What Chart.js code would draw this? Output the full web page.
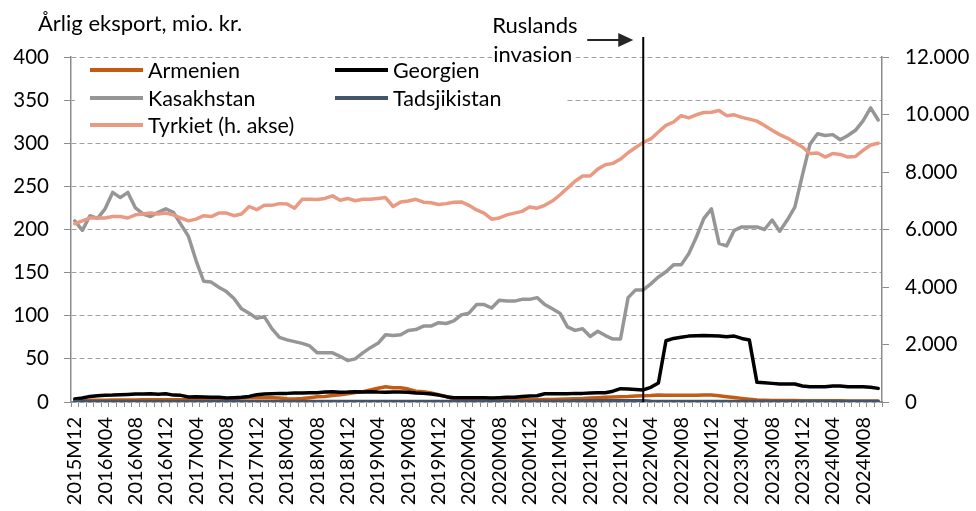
<!DOCTYPE html>
<html>
<head>
<meta charset="utf-8">
<script src="https://cdn.jsdelivr.net/npm/chart.js@4.4.1/dist/chart.umd.min.js"></script>
<style>
  html, body { margin: 0; padding: 0; background: #fff; }
  #wrap { width: 976px; height: 511px; }
</style>
</head>
<body>
<div id="wrap"><canvas id="eksport" width="976" height="511"></canvas></div>
<script>
// months 2015M12 .. 2024M10
const months = [];
for (let y = 2015, m = 12; months.length < 107; m++) {
  if (m > 12) { m = 1; y++; }
  months.push(y + 'M' + String(m).padStart(2, '0'));
}
const tickLabels = months.filter((_, i) => i % 4 === 0);
const invasionMonth = '2022M03';

// mio. kr., venstre akse
const armenien = [2, 2, 2, 2, 2, 2.2, 2.2, 2.4, 2.4, 2.5, 2.5, 2.5, 2.6, 2.6, 2.5, 2.5, 2.6, 2.8, 3, 3.2,
  3.5, 4, 4.5, 5, 5, 5, 4.8, 4.5, 3.8, 3.6, 4, 5, 6, 6.5, 7.5, 8.5, 9.5, 11, 12, 14,
  16, 17.7, 16.5, 16.5, 15, 12.5, 12, 10.4, 8.5, 6.5, 3.5, 2.7, 2.5, 2.5, 2.5, 2.5, 2.5, 2.5, 2.5, 2.5,
  2.5, 2.6, 2.8, 3, 3.2, 3.5, 3.8, 4, 4.5, 5, 5.5, 5.8, 6.2, 6.5, 7, 7.3, 7.5, 8, 7.8, 7.7,
  7.7, 7.8, 7.8, 8, 8, 7.2, 6.2, 5.2, 4.2, 3.2, 2.3, 2, 1.8, 1.7, 1.6, 1.6, 1.5, 1.5, 1.5, 1.4,
  1.4, 1.4, 1.3, 1.3, 1.3, 1.2, 1.2];
const georgien = [3.5, 4.6, 6.5, 7.3, 7.7, 8, 8.5, 8.8, 9.2, 9.2, 9.6, 9, 9.6, 8, 7.7, 5.8, 6.2, 5.8, 5.4, 5.4,
  4.6, 5, 5.4, 6.5, 8.5, 9.2, 9.6, 10, 10, 10.4, 10.4, 10.8, 10.8, 11.5, 12, 11.2, 11.5, 12, 11.5, 12,
  11.5, 11.2, 11.5, 11.5, 11.2, 10.4, 10, 9.2, 8, 6.2, 5, 5, 5, 5, 5, 4.6, 5, 5.4, 5.4, 6.5,
  7, 7.3, 9.6, 9.6, 9.6, 9.6, 10, 10, 10.4, 10.8, 10.8, 12.5, 15.5, 15, 14.5, 14, 17, 22, 71, 73.7,
  75, 76.4, 76.8, 77, 76.8, 76.4, 75.6, 76.4, 73.7, 71.8, 22.8, 22.4, 21.6, 20.8, 20.8, 20.8, 18.5, 17.7, 17.7, 17.7,
  18.5, 18.5, 17.7, 17.7, 17.7, 17, 15.8];
const kasakhstan = [210, 199, 216, 213, 224, 243, 237, 243, 225, 218, 215, 220, 224, 220, 206, 192, 164, 140, 139, 133,
  128, 120, 108, 103, 97, 99, 85, 75, 72, 70, 68, 65, 57, 57, 57, 53, 48, 50, 57, 63,
  68, 78, 77, 78, 83, 84, 88, 88, 92, 91, 94, 101, 103, 113, 113, 109, 118, 117, 117, 119,
  119, 121, 113, 108, 103, 87, 83, 85, 76, 82, 77, 73, 73, 121, 130, 130, 137, 145, 151, 159,
  159, 172, 191, 213, 224, 184, 181, 199, 203, 203, 203, 200, 211, 198, 211, 226, 263, 299, 311, 309,
  310, 304, 309, 315, 326, 341, 327];
const tadsjikistan = [0.5, 0.5, 0.5, 0.5, 0.5, 0.5, 0.5, 0.5, 0.5, 0.5, 0.5, 0.5, 0.5, 0.5, 0.5, 0.5, 0.5, 0.5, 0.5, 0.5,
  0.5, 0.5, 0.5, 0.5, 0.5, 0.5, 0.5, 0.5, 0.5, 0.5, 0.5, 0.5, 0.5, 0.5, 0.5, 0.5, 0.5, 0.5, 0.5, 0.5,
  0.5, 0.5, 0.5, 0.5, 0.5, 0.5, 0.5, 0.5, 0.5, 0.5, 0.5, 0.5, 0.5, 0.5, 0.5, 0.5, 0.5, 0.5, 0.5, 0.5,
  0.5, 1, 1, 1, 1, 1, 1.5, 1.5, 1.5, 1.5, 1.5, 1.5, 1.5, 1.5, 1.5, 1.5, 0.8, 0.5, 0.5, 0.5,
  0.5, 0.5, 0.5, 0.5, 0.5, 0.5, 0.5, 0.5, 0.5, 0.5, 0.5, 0.5, 0.5, 0.5, 0.5, 0.5, 0.5, 0.5, 0.5, 0.5,
  0.5, 0.5, 0.5, 0.5, 0.5, 0.5, 0.5];
// mio. kr., hoejre akse
const tyrkiet = [6200, 6300, 6400, 6400, 6400, 6450, 6450, 6400, 6510, 6540, 6570, 6540, 6570, 6510, 6400, 6300, 6360, 6480, 6450, 6570,
  6570, 6480, 6540, 6800, 6690, 6840, 6840, 6900, 6890, 6740, 7050, 7050, 7040, 7080, 7170, 7020, 7080, 7000, 7050, 7050,
  7080, 7110, 6800, 6960, 6990, 7050, 6950, 6930, 6870, 6900, 6950, 6960, 6840, 6680, 6570, 6360, 6400, 6510, 6570, 6630,
  6780, 6740, 6840, 6990, 7200, 7440, 7680, 7860, 7860, 8100, 8250, 8300, 8450, 8670, 8850, 9030, 9150, 9390, 9620, 9740,
  9960, 9880, 9990, 10070, 10080, 10140, 9960, 9990, 9900, 9840, 9770, 9620, 9450, 9300, 9180, 9030, 8870, 8640, 8660, 8520,
  8640, 8610, 8520, 8540, 8750, 8940, 9000];

const leftTicks = [0, 50, 100, 150, 200, 250, 300, 350, 400];
const rightTicks = [0, 2000, 4000, 6000, 8000, 10000, 12000];

const FONT = 'Lato, "Noto Sans", sans-serif';
const gridGrey = '#a0a0a0';
const axisGrey = '#8c8c8c';

function line(label, data, color, axis, order) {
  return {
    label, data, borderColor: color, backgroundColor: color, yAxisID: axis, order,
    borderWidth: 3.5, pointRadius: 0, tension: 0, fill: false,
    borderJoinStyle: 'round', borderCapStyle: 'round'
  };
}

const extras = {
  id: 'extras',
  afterDraw(chart) {
    const ctx = chart.ctx;
    const area = chart.chartArea;
    const xs = chart.scales.x;
    ctx.save();
    ctx.font = '22px ' + FONT;
    ctx.fillStyle = '#000';
    ctx.textBaseline = 'alphabetic';
    ctx.textAlign = 'left';
    ctx.fillText('Årlig eksport, mio. kr.', 38, 31);

    // legend box
    ctx.fillStyle = '#fff';
    ctx.fillRect(area.left + 4, area.top + 3, 492, 78);
    const items = chart.data.datasets;
    const cols = [90, 335];
    const rows = [70, 98, 125];
    ctx.font = '21.5px ' + FONT;
    ctx.textBaseline = 'middle';
    items.forEach((ds, i) => {
      const lx = cols[i % 2], ly = rows[Math.floor(i / 2)];
      ctx.strokeStyle = ds.borderColor;
      ctx.lineWidth = 4;
      ctx.beginPath(); ctx.moveTo(lx, ly); ctx.lineTo(lx + 53, ly); ctx.stroke();
      ctx.fillStyle = '#000';
      ctx.fillText(ds.label, lx + 58, ly + 1);
    });

    // invasion marker
    const px = xs.getPixelForValue(months.indexOf(invasionMonth));
    ctx.strokeStyle = '#000';
    ctx.lineWidth = 2;
    ctx.beginPath(); ctx.moveTo(px, area.top - 20); ctx.lineTo(px, area.bottom); ctx.stroke();

    ctx.font = '22px ' + FONT;
    ctx.textBaseline = 'alphabetic';
    const tw = ctx.measureText('invasion').width;
    ctx.fillStyle = '#fff';
    ctx.fillRect(px - 151, area.top - 12, tw + 4, 20);
    ctx.fillStyle = '#000';
    ctx.fillText('Ruslands', px - 151, 33);
    ctx.fillText('invasion', px - 150, 62);

    // arrow
    ctx.strokeStyle = '#262626';
    ctx.fillStyle = '#262626';
    ctx.lineWidth = 2;
    ctx.beginPath(); ctx.moveTo(px - 56, 40); ctx.lineTo(px - 22, 40); ctx.stroke();
    ctx.beginPath();
    ctx.moveTo(px - 10, 40); ctx.lineTo(px - 25, 33); ctx.lineTo(px - 25, 47); ctx.closePath(); ctx.fill();
    ctx.restore();
  }
};

new Chart(document.getElementById('eksport'), {
  type: 'line',
  data: {
    labels: months,
    datasets: [
      line('Armenien', armenien, '#c55a11', 'y', 5),
      line('Georgien', georgien, '#000000', 'y', 4),
      line('Kasakhstan', kasakhstan, '#969696', 'y', 3),
      line('Tadsjikistan', tadsjikistan, '#44546a', 'y', 2),
      line('Tyrkiet (h. akse)', tyrkiet, '#ea9a82', 'y2', 1)
    ]
  },
  options: {
    responsive: false,
    animation: false,
    layout: { padding: { top: 57, left: 0, right: 0, bottom: 0 } },
    plugins: { legend: { display: false }, tooltip: { enabled: false } },
    scales: {
      x: {
        offset: true,
        grid: { display: true, drawOnChartArea: false, drawTicks: true, offset: true, tickLength: 5, tickColor: axisGrey, tickWidth: 1 },
        border: { display: true, color: axisGrey, width: 1.5 },
        ticks: {
          autoSkip: false, maxRotation: 90, minRotation: 90, padding: 10,
          color: '#000', font: { family: FONT, size: 20 },
          callback: (v, i) => tickLabels.includes(months[i]) ? months[i] : ''
        },
        afterFit: s => { s.height = 109; }
      },
      y: {
        position: 'left',
        min: leftTicks[0], max: leftTicks[leftTicks.length - 1],
        afterBuildTicks: s => { s.ticks = leftTicks.map(v => ({ value: v })); },
        grid: { color: gridGrey, lineWidth: 1, tickLength: 7, tickColor: axisGrey },
        border: { display: true, color: axisGrey, width: 1.5, dash: [5, 3] },
        ticks: { padding: 15, color: '#000', font: { family: FONT, size: 20.5 } },
        afterFit: s => { s.width = 71; }
      },
      y2: {
        position: 'right',
        min: rightTicks[0], max: rightTicks[rightTicks.length - 1],
        afterBuildTicks: s => { s.ticks = rightTicks.map(v => ({ value: v })); },
        grid: { drawOnChartArea: false, tickLength: 7, tickColor: axisGrey },
        border: { display: true, color: axisGrey, width: 1.5 },
        ticks: {
          padding: 16, color: '#000', font: { family: FONT, size: 20.5 },
          callback: v => String(v).replace(/\B(?=(\d{3})+(?!\d))/g, '.')
        },
        afterFit: s => { s.width = 94; }
      }
    }
  },
  plugins: [extras]
});
</script>
</body>
</html>
